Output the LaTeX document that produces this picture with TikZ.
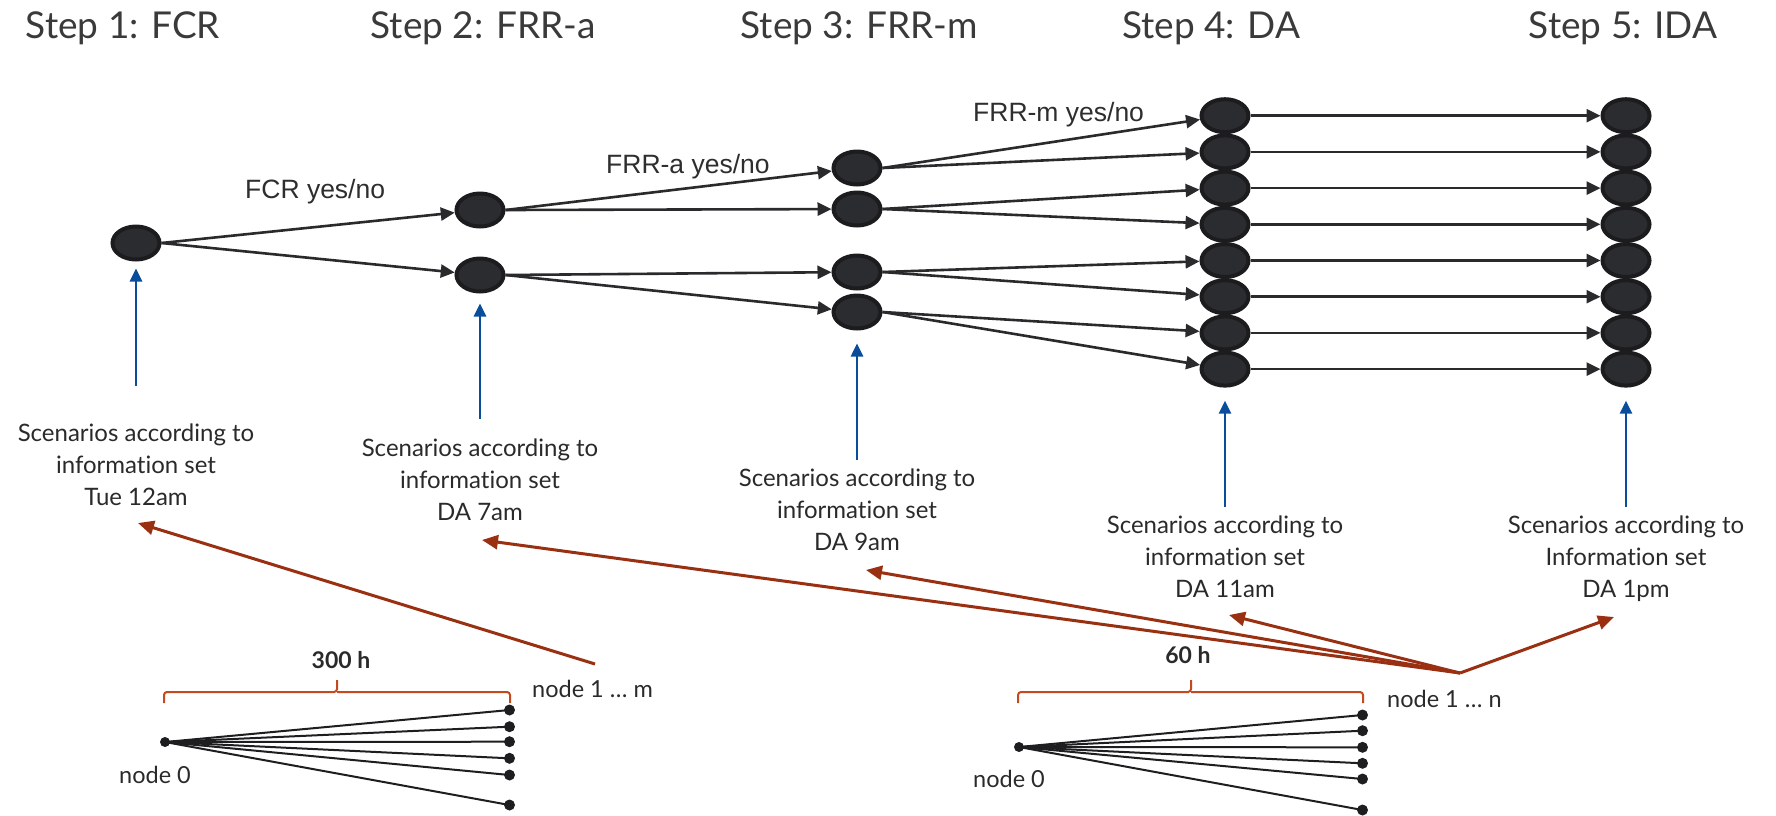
\documentclass[tikz,border=0pt]{standalone}
\usepackage{fontspec}
\setmainfont{Lato}[Ligatures=NoCommon]
\newfontfamily\arialf{Liberation Sans}
\usetikzlibrary{arrows.meta,shapes.geometric}
\definecolor{nodefill}{HTML}{2B2C30}
\definecolor{nodeline}{HTML}{1C1C1E}
\definecolor{edgecol}{HTML}{2A2A2D}
\definecolor{bluecol}{HTML}{0A4E9B}
\definecolor{redcol}{HTML}{9A3012}
\definecolor{bracecol}{HTML}{C4491F}
\definecolor{titlecol}{HTML}{3A3A3A}
\definecolor{textcol}{HTML}{2A2A2A}
\definecolor{labelcol}{HTML}{2E2E2E}
\definecolor{dotcol}{HTML}{1E1E20}
\begin{document}
\begin{tikzpicture}[x=1pt,y=-1pt,
  tnode/.style={ellipse, draw=nodeline, fill=nodefill, line width=4pt, minimum width=47pt, minimum height=33pt, inner sep=0pt},
  tedge/.style={draw=edgecol, line width=2.6pt, -{Triangle[length=14pt,width=13pt]}},
  blueup/.style={draw=bluecol, line width=2.6pt, -{Triangle[length=13pt,width=12pt]}},
  redarr/.style={draw=redcol, line width=3pt, -{Triangle[length=16pt,width=14pt]}},
  steptitle/.style={font=\fontsize{37}{44}\selectfont, text=titlecol, inner sep=0pt, anchor=base},
  yesno/.style={font=\arialf\fontsize{26.5}{30}\selectfont, text=labelcol, inner sep=0pt, anchor=base west},
  scen/.style={font=\fontsize{24}{32}\selectfont, align=center, inner sep=0pt, anchor=north, text=textcol},
  dotnode/.style={circle, fill=dotcol, minimum size=11pt, inner sep=0pt},
  fanline/.style={draw=dotcol, line width=2pt},
  bracepath/.style={draw=bracecol, line width=2pt, rounded corners=3pt},
  smalltxt/.style={font=\fontsize{23.5}{28}\selectfont, inner sep=0pt, anchor=base west, text=textcol},
  boldtxt/.style={font=\bfseries\fontsize{23}{28}\selectfont, inner sep=0pt, anchor=base, text=textcol}
]
\useasboundingbox (0,0) rectangle (1776,815);

% titles
\node[steptitle] (t1) at (123,38.3) {Step 1: FCR};
\node[steptitle] (t2) at (483,38.3) {Step 2: FRR-a};
\node[steptitle] (t3) at (859,38.3) {Step 3: FRR-m};
\node[steptitle] (t4) at (1211,38.3) {Step 4: DA};
\node[steptitle] (t5) at (1623,38.3) {Step 5: IDA};

% tree nodes
\node[tnode] (n1) at (136,243) {};
\node[tnode] (n2a) at (480,210) {};
\node[tnode] (n2b) at (480,275) {};
\node[tnode] (n3a) at (857,168) {};
\node[tnode] (n3b) at (857,209) {};
\node[tnode] (n3c) at (857,272) {};
\node[tnode] (n3d) at (857,312) {};
\foreach \i/\y in {1/115.7,2/151.9,3/188.1,4/224.3,5/260.5,6/296.7,7/332.9,8/369.1}{
  \node[tnode] (n4-\i) at (1225,\y) {};
  \node[tnode] (n5-\i) at (1626,\y) {};
}

% tree edges
\draw[tedge] (n1.east) -- (n2a);
\draw[tedge] (n1.east) -- (n2b);
\draw[tedge] (n2a.east) -- (n3a);
\draw[tedge] (n2a.east) -- (n3b);
\draw[tedge] (n2b.east) -- (n3c);
\draw[tedge] (n2b.east) -- (n3d);
\draw[tedge] (n3a.east) -- (n4-1);
\draw[tedge] (n3a.east) -- (n4-2);
\draw[tedge] (n3b.east) -- (n4-3);
\draw[tedge] (n3b.east) -- (n4-4);
\draw[tedge] (n3c.east) -- (n4-5);
\draw[tedge] (n3c.east) -- (n4-6);
\draw[tedge] (n3d.east) -- (n4-7);
\draw[tedge] (n3d.east) -- (n4-8);
\foreach \i in {1,...,8}{
  \draw[tedge] (n4-\i.east) -- (n5-\i);
}

% edge labels
\node[yesno] (l1) at (245,198) {FCR yes/no};
\node[yesno] (l2) at (606,173) {FRR-a yes/no};
\node[yesno] (l3) at (973,121) {FRR-m yes/no};

% scenario texts
\node[scen] (s1) at (136,424) {Scenarios according to\\information set\\Tue 12am};
\node[scen] (s2) at (480,439) {Scenarios according to\\information set\\DA 7am};
\node[scen] (s3) at (857,469) {Scenarios according to\\information set\\DA 9am};
\node[scen] (s4) at (1225,515.5) {Scenarios according to\\information set\\DA 11am};
\node[scen] (s5) at (1626,515.5) {Scenarios according to\\Information set\\DA 1pm};

% blue arrows
\coordinate (b1) at (136,386);
\coordinate (b2) at (480,419);
\coordinate (b3) at (857,460);
\coordinate (b4) at (1225,506.7);
\coordinate (b5) at (1626,506.7);
\draw[blueup, shorten >=7pt] (b1) -- (n1);
\draw[blueup, shorten >=10pt] (b2) -- (n2b);
\draw[blueup, shorten >=13pt] (b3) -- (n3d);
\draw[blueup, shorten >=13pt] (b4) -- (n4-8);
\draw[blueup, shorten >=13pt] (b5) -- (n5-8);

% red arrows
\coordinate (rm) at (595,664);
\coordinate (rn) at (1460,673);
\coordinate (r1) at (138,523);
\coordinate (r2) at (482,540);
\coordinate (r3) at (866,570);
\coordinate (r4) at (1229,615);
\coordinate (r5) at (1614,617);
\draw[redarr] (rm) -- (r1);
\draw[redarr] (rn) -- (r2);
\draw[redarr] (rn) -- (r3);
\draw[redarr] (rn) -- (r4);
\draw[redarr] (rn) -- (r5);

% bottom left fan
\node[boldtxt] (h300) at (341,668) {300 h};
\draw[bracepath] (164,703) -- (164,692) -- (337,692) -- (337,680);
\draw[bracepath] (337,692) -- (510,692) -- (510,703);
\node[dotnode, minimum size=10pt] (a0) at (165,742) {};
\foreach \i/\y in {1/710,2/726.7,3/741.7,4/758.3,5/775,6/805}{
  \node[dotnode] (a\i) at (509.5,\y) {};
  \draw[fanline] (a0.center) -- (a\i.center);
}
\node[smalltxt] (a0t) at (119,783) {node 0};
\node[smalltxt] (amt) at (532,697) {node 1 … m};

% bottom right fan
\node[boldtxt] (h60) at (1188,663) {60 h};
\draw[bracepath] (1018,703) -- (1018,692) -- (1191,692) -- (1191,680);
\draw[bracepath] (1191,692) -- (1363,692) -- (1363,703);
\node[dotnode, minimum size=10pt] (c0) at (1019,747) {};
\foreach \i/\y in {1/715,2/730.7,3/747.3,4/763.3,5/779,6/810}{
  \node[dotnode] (c\i) at (1362.5,\y) {};
  \draw[fanline] (c0.center) -- (c\i.center);
}
\node[smalltxt] (c0t) at (973,787) {node 0};
\node[smalltxt] (cnt) at (1387,707) {node 1 … n};

\end{tikzpicture}
\end{document}
